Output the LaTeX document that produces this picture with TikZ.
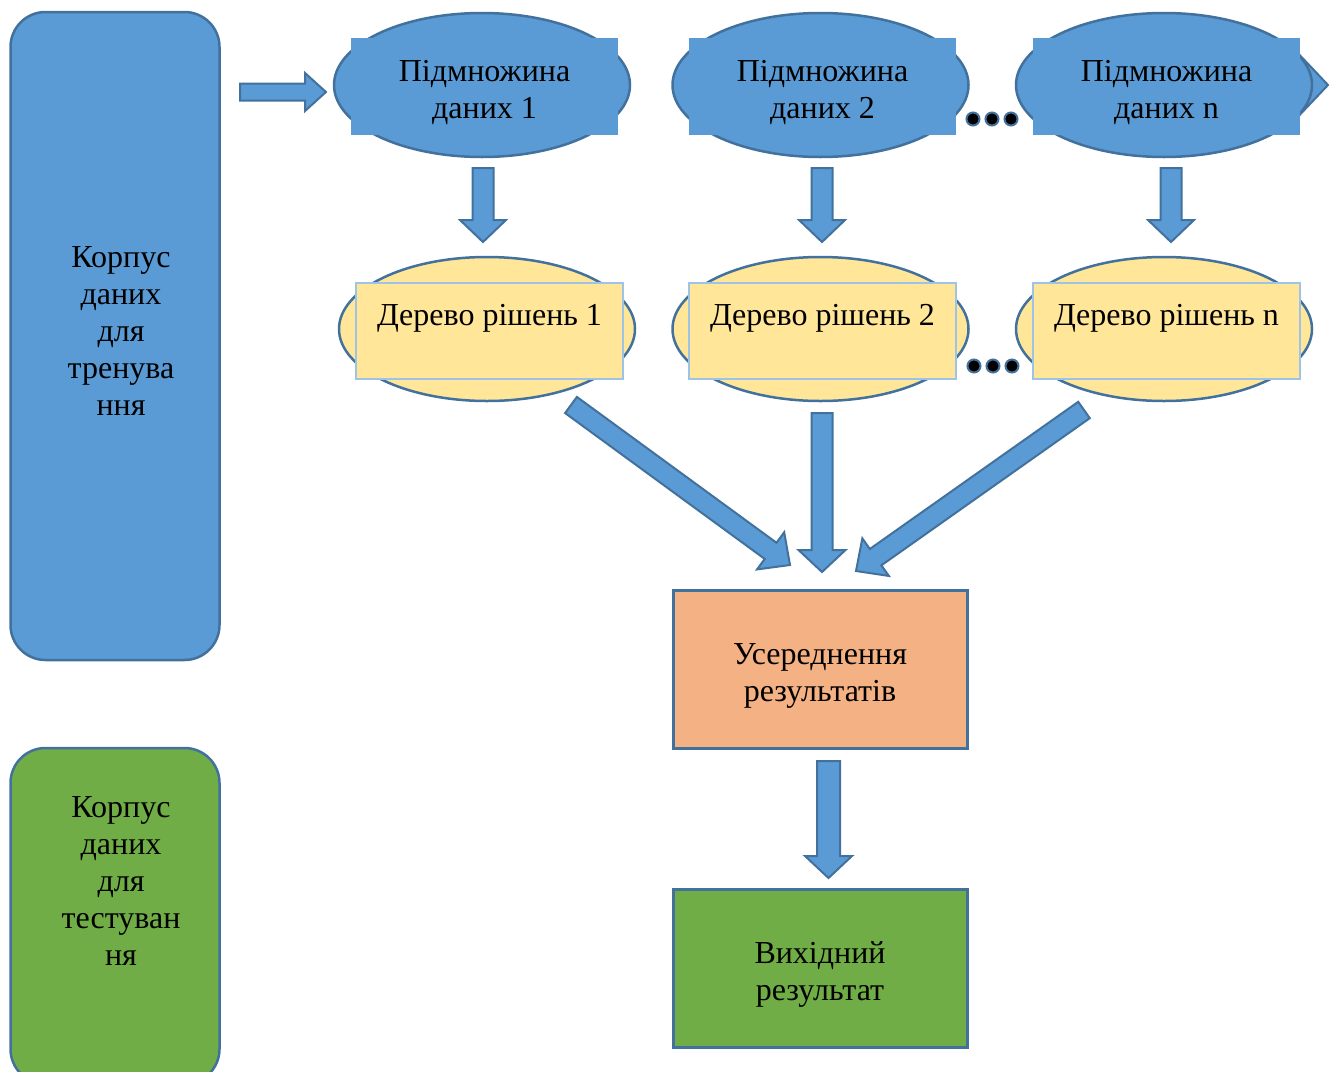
\documentclass[tikz,border=0pt]{standalone}
\usepackage{fontspec}
\setmainfont{Liberation Serif}
\usetikzlibrary{shapes.geometric,calc}
\definecolor{fillblue}{HTML}{5B9BD5}
\definecolor{edgeblue}{HTML}{41719C}
\definecolor{fillyellow}{HTML}{FFE699}
\definecolor{lightedge}{HTML}{9DC3E6}
\definecolor{fillorange}{HTML}{F4B183}
\definecolor{fillgreen}{HTML}{70AD47}
\tikzset{
  every node/.style={font=\fontsize{32}{37}\selectfont, align=center, inner sep=0pt},
  sidebox/.style={rectangle, rounded corners=35pt, draw=edgeblue, line width=2.5pt, minimum width=209pt},
  bigell/.style={ellipse, draw=edgeblue, line width=2.5pt, minimum width=296pt, minimum height=144pt},
  subrect/.style={rectangle, fill=fillblue, minimum width=267pt, minimum height=97pt, text height=65pt, text depth=2pt},
  treerect/.style={rectangle, fill=fillyellow, draw=lightedge, line width=1.2pt, minimum width=267pt, minimum height=96pt, text height=20pt, text depth=32pt},
  mainbox/.style={rectangle, draw=edgeblue, line width=3pt, minimum width=294pt, minimum height=158pt, text height=67pt, text depth=2pt},
  dotmark/.style={circle, fill=black, draw=edgeblue, line width=2pt, minimum size=13pt},
  blockarr/.style={fill=fillblue, draw=edgeblue, line width=2pt, line join=miter},
}
\newcommand\fatarrow[5]{%
  \coordinate (fa-b) at ($(#2)!#5!(#1)$);
  \draw[blockarr] ($(#1)!#3!90:(#2)$) -- ($(fa-b)!#3!90:(#2)$) -- ($(fa-b)!#4!90:(#2)$) -- (#2)
    -- ($(fa-b)!#4!-90:(#2)$) -- ($(fa-b)!#3!-90:(#2)$) -- ($(#1)!#3!-90:(#2)$) -- cycle;}
\begin{document}
\begin{tikzpicture}[x=1pt,y=-1pt]
\useasboundingbox (0,0) rectangle (1338,1071);
\clip (0,0) rectangle (1338,1071);

% side boxes
\node[sidebox, fill=fillblue, minimum height=648pt] (train) at (115,336) {};
\node (traintxt) at (121,331) {Корпус\\даних\\для\\тренува\\ння};
\node[sidebox, fill=fillgreen, minimum height=336pt] (test) at (115,916) {};
\node (testtxt) at (121,881) {Корпус\\даних\\для\\тестуван\\ня};

% arrow-shaped shape behind third subset
\draw[fill=fillblue, draw=edgeblue, line width=2pt, line join=miter]
  (1200,48) -- (1293,48) -- (1328,85) -- (1293,122) -- (1200,122) -- cycle;

% subsets
\node[bigell, fill=fillblue] (sub1e) at (482,85) {};
\node[subrect] (sub1) at (484.5,86.5) {Підмножина\\даних 1};
\node[bigell, fill=fillblue] (sub2e) at (820.5,85) {};
\node[subrect] (sub2) at (822.5,86.5) {Підмножина\\даних 2};
\node[bigell, fill=fillblue] (sub3e) at (1164,85) {};
\node[subrect] (sub3) at (1166.5,86.5) {Підмножина\\даних n};

% trees
\node[bigell, fill=fillyellow] (tree1e) at (487,329) {};
\node[treerect] (tree1) at (489.5,331) {Дерево рішень 1};
\node[bigell, fill=fillyellow] (tree2e) at (820.5,329) {};
\node[treerect] (tree2) at (822.5,331) {Дерево рішень 2};
\node[bigell, fill=fillyellow] (tree3e) at (1164,329) {};
\node[treerect] (tree3) at (1166.5,331) {Дерево рішень n};

% dots
\node[dotmark] (da1) at (973,119) {};
\node[dotmark] (da2) at (992,119) {};
\node[dotmark] (da3) at (1011,119) {};
\node[dotmark] (db1) at (974,366) {};
\node[dotmark] (db2) at (993,366) {};
\node[dotmark] (db3) at (1012,366) {};

% result boxes
\node[mainbox, fill=fillorange] (avg) at (820,669) {Усереднення\\результатів};
\node[mainbox, fill=fillgreen] (out) at (820,968) {Вихідний\\результат};

% arrow end coordinates
\coordinate (a0s) at (240,92);   \coordinate (a0t) at (326,92);
\coordinate (a1s) at (483,168);  \coordinate (a1t) at (483,242);
\coordinate (a2s) at (822,168);  \coordinate (a2t) at (822,242);
\coordinate (a3s) at (1171,168); \coordinate (a3t) at (1171,242);
\coordinate (b1s) at (571,405);  \coordinate (b1t) at (790,565);
\coordinate (b2s) at (822,413);  \coordinate (b2t) at (822,572);
\coordinate (b3s) at (1084,410); \coordinate (b3t) at (856,571);
\coordinate (c1s) at (828.5,761); \coordinate (c1t) at (828.5,878);

% block arrows
\fatarrow{a0s}{a0t}{8.5pt}{19pt}{21pt}
\fatarrow{a1s}{a1t}{10.5pt}{23pt}{22pt}
\fatarrow{a2s}{a2t}{10.5pt}{23pt}{22pt}
\fatarrow{a3s}{a3t}{10.5pt}{23pt}{22pt}
\fatarrow{b1s}{b1t}{10pt}{23pt}{24pt}
\fatarrow{b2s}{b2t}{10.5pt}{23.5pt}{22pt}
\fatarrow{b3s}{b3t}{10pt}{23pt}{24pt}
\fatarrow{c1s}{c1t}{11.5pt}{23.5pt}{22pt}
\end{tikzpicture}
\end{document}
